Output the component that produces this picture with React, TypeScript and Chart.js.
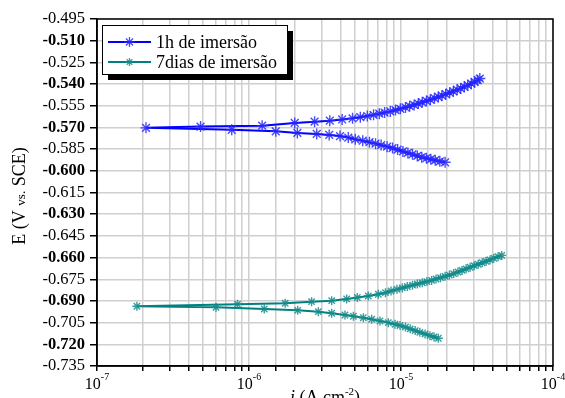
import { useEffect, useRef } from 'react';
import { Chart, registerables } from 'chart.js';

Chart.register(...registerables);

const FONT = '"Liberation Serif", "Times New Roman", serif';

const seriesNames = ['1h de imersão', '7dias de imersão'];
const seriesColors = ['#0000ff', '#008080'];
const markerColors = ['rgba(40,40,255,0.85)', 'rgba(20,140,140,0.85)'];

// 1h series: cathodic branch (from Ecorr outward) and anodic branch (from Ecorr outward)
const blueCathI = [7.7e-7, 1.5e-6, 2.08e-6, 2.79e-6, 3.37e-6, 3.97e-6, 4.5e-6, 5.0e-6, 5.6e-6, 6.2e-6, 6.8e-6, 7.4e-6, 8.1e-6, 8.8e-6, 9.5e-6, 1.03e-5, 1.11e-5, 1.19e-5, 1.28e-5, 1.37e-5, 1.47e-5, 1.57e-5, 1.68e-5, 1.8e-5, 1.95e-5];
const blueCathE = [-0.5716, -0.5727, -0.5738, -0.5745, -0.5752, -0.576, -0.577, -0.5782, -0.5792, -0.5802, -0.5812, -0.5822, -0.5833, -0.5843, -0.5853, -0.5866, -0.5876, -0.5886, -0.5897, -0.5906, -0.5913, -0.592, -0.5927, -0.5934, -0.5941];
const blueAnodI = [2.1e-7, 4.8e-7, 1.22e-6, 2.0e-6, 2.7e-6, 3.4e-6, 4.1e-6, 4.8e-6, 5.4e-6, 6.0e-6, 6.6e-6, 7.2e-6, 7.8e-6, 8.5e-6, 9.2e-6, 9.9e-6, 1.07e-5, 1.14e-5, 1.22e-5, 1.3e-5, 1.38e-5, 1.47e-5, 1.56e-5, 1.66e-5, 1.76e-5, 1.86e-5, 1.97e-5, 2.09e-5, 2.21e-5, 2.34e-5, 2.47e-5, 2.61e-5, 2.75e-5, 2.9e-5, 3.05e-5, 3.2e-5, 3.3e-5];
const blueAnodE = [-0.5703, -0.5694, -0.5688, -0.5669, -0.566, -0.5653, -0.5645, -0.5637, -0.5629, -0.5621, -0.5613, -0.5605, -0.5597, -0.5589, -0.558, -0.5571, -0.5562, -0.5553, -0.5544, -0.5535, -0.5526, -0.5517, -0.5508, -0.5498, -0.5489, -0.548, -0.547, -0.546, -0.545, -0.544, -0.543, -0.5419, -0.5408, -0.5397, -0.5385, -0.5373, -0.5362];

// 7 days series
const tealCathI = [6.07e-7, 1.26e-6, 2.09e-6, 2.86e-6, 3.5e-6, 4.28e-6, 4.86e-6, 5.65e-6, 6.41e-6, 7.27e-6, 8.25e-6, 9.13e-6, 9.85e-6, 1.07e-5, 1.15e-5, 1.24e-5, 1.33e-5, 1.44e-5, 1.55e-5, 1.65e-5, 1.76e-5];
const tealCathE = [-0.6944, -0.6956, -0.6965, -0.6974, -0.6985, -0.6997, -0.7006, -0.7016, -0.7027, -0.7039, -0.705, -0.7061, -0.707, -0.7081, -0.7093, -0.7105, -0.7117, -0.7129, -0.714, -0.7149, -0.7158];
const tealAnodI = [1.83e-7, 8.4e-7, 1.73e-6, 2.58e-6, 3.5e-6, 4.39e-6, 5.16e-6, 6.09e-6, 7.09e-6, 7.9e-6, 8.6e-6, 9.4e-6, 1.02e-5, 1.1e-5, 1.19e-5, 1.28e-5, 1.38e-5, 1.48e-5, 1.59e-5, 1.7e-5, 1.82e-5, 1.95e-5, 2.08e-5, 2.22e-5, 2.37e-5, 2.52e-5, 2.68e-5, 2.85e-5, 3.03e-5, 3.22e-5, 3.42e-5, 3.63e-5, 3.85e-5, 4.08e-5, 4.35e-5, 4.6e-5];
const tealAnodE = [-0.6937, -0.6923, -0.6916, -0.6905, -0.6898, -0.6886, -0.6876, -0.6866, -0.6854, -0.6843, -0.6831, -0.682, -0.681, -0.68, -0.6791, -0.6783, -0.6774, -0.6766, -0.6758, -0.6748, -0.6739, -0.673, -0.6721, -0.6711, -0.67, -0.6689, -0.6678, -0.6667, -0.6656, -0.6646, -0.6636, -0.6626, -0.6616, -0.6605, -0.6594, -0.6585];

const yMin = -0.735;
const yMax = -0.495;
const yStep = 0.015;
const xMin = 1e-7;
const xMax = 1e-4;
const xTickExponents = ['-7', '-6', '-5', '-4'];

function buildSeries(cI: number[], cE: number[], aI: number[], aE: number[]) {
  const pts: { x: number; y: number }[] = [];
  for (let k = cI.length - 1; k >= 0; k--) pts.push({ x: cI[k], y: cE[k] });
  for (let k = 0; k < aI.length; k++) pts.push({ x: aI[k], y: aE[k] });
  return pts;
}

const overlayPlugin = {
  id: 'overlay',
  afterDraw(chart: any) {
    const ctx = chart.ctx as CanvasRenderingContext2D;
    const area = chart.chartArea;
    const xs = chart.scales.x;
    ctx.save();
    // frame
    ctx.strokeStyle = '#000';
    ctx.lineWidth = 1.5;
    ctx.strokeRect(area.left, area.top, area.right - area.left, area.bottom - area.top);

    // x tick labels 10^n
    ctx.fillStyle = '#000';
    ctx.textBaseline = 'alphabetic';
    xTickExponents.forEach((e) => {
      const v = Math.pow(10, Number(e));
      const px = xs.getPixelForValue(v);
      ctx.font = `16px ${FONT}`;
      const w1 = ctx.measureText('10').width;
      ctx.font = `10px ${FONT}`;
      const w2 = ctx.measureText(e).width;
      const left = px - (w1 + w2) / 2;
      ctx.font = `16px ${FONT}`;
      ctx.textAlign = 'left';
      ctx.fillText('10', left, 389);
      ctx.font = `10px ${FONT}`;
      ctx.fillText(e, left + w1, 380);
    });

    // x title: i (A.cm^-2)
    {
      const parts = [
        { t: 'i', f: `italic 18px ${FONT}`, dy: 0 },
        { t: ' (A.cm', f: `18px ${FONT}`, dy: 0 },
        { t: '-2', f: `11px ${FONT}`, dy: -8 },
        { t: ')', f: `18px ${FONT}`, dy: 0 },
      ];
      let total = 0;
      parts.forEach((p) => { ctx.font = p.f; total += ctx.measureText(p.t).width; });
      let x = 325 - total / 2;
      parts.forEach((p) => {
        ctx.font = p.f;
        ctx.textAlign = 'left';
        ctx.fillText(p.t, x, 403 + p.dy);
        x += ctx.measureText(p.t).width;
      });
    }

    // y title: E (V vs. SCE)
    {
      const parts = [
        { t: 'E (V ', f: `18px ${FONT}` },
        { t: 'vs.', f: `13px ${FONT}` },
        { t: ' SCE)', f: `18px ${FONT}` },
      ];
      let total = 0;
      parts.forEach((p) => { ctx.font = p.f; total += ctx.measureText(p.t).width; });
      ctx.save();
      ctx.translate(25, 196);
      ctx.rotate(-Math.PI / 2);
      let x = -total / 2;
      parts.forEach((p) => {
        ctx.font = p.f;
        ctx.textAlign = 'left';
        ctx.fillText(p.t, x, 0);
        x += ctx.measureText(p.t).width;
      });
      ctx.restore();
    }

    // legend
    const lx = 102, ly = 25, lw = 185, lh = 49;
    ctx.fillStyle = '#000';
    ctx.fillRect(lx + 6, ly + 6, lw, lh);
    ctx.fillStyle = '#fff';
    ctx.fillRect(lx, ly, lw, lh);
    ctx.strokeStyle = '#000';
    ctx.lineWidth = 1;
    ctx.strokeRect(lx + 0.5, ly + 0.5, lw, lh);
    seriesNames.forEach((name, k) => {
      const y = 42 + k * 20;
      ctx.strokeStyle = seriesColors[k];
      ctx.lineWidth = 1.8;
      ctx.beginPath();
      ctx.moveTo(108, y);
      ctx.lineTo(151, y);
      ctx.stroke();
      // star marker
      const r = k === 0 ? 5 : 4;
      ctx.strokeStyle = markerColors[k];
      ctx.lineWidth = 1.3;
      ctx.beginPath();
      for (let a = 0; a < 4; a++) {
        const ang = (a * Math.PI) / 4;
        ctx.moveTo(129.5 - r * Math.cos(ang), y - r * Math.sin(ang));
        ctx.lineTo(129.5 + r * Math.cos(ang), y + r * Math.sin(ang));
      }
      ctx.stroke();
      ctx.fillStyle = '#000';
      ctx.font = `18px ${FONT}`;
      ctx.textAlign = 'left';
      ctx.textBaseline = 'middle';
      ctx.fillText(name, 156, y + 1);
    });
    ctx.restore();
  },
};

export default function App() {
  const ref = useRef<HTMLCanvasElement | null>(null);
  useEffect(() => {
    if (!ref.current) return;
    Chart.defaults.font.family = FONT;
    const chart = new Chart(ref.current, {
      type: 'line',
      data: {
        datasets: [
          {
            label: seriesNames[0],
            data: buildSeries(blueCathI, blueCathE, blueAnodI, blueAnodE),
            borderColor: seriesColors[0],
            borderWidth: 2,
            pointStyle: 'star',
            pointRadius: 5.5,
            pointBorderColor: markerColors[0],
            pointBackgroundColor: markerColors[0],
            pointBorderWidth: 1.4,
            fill: false,
            tension: 0,
          },
          {
            label: seriesNames[1],
            data: buildSeries(tealCathI, tealCathE, tealAnodI, tealAnodE),
            borderColor: seriesColors[1],
            borderWidth: 2,
            pointStyle: 'star',
            pointRadius: 4.5,
            pointBorderColor: markerColors[1],
            pointBackgroundColor: markerColors[1],
            pointBorderWidth: 1.4,
            fill: false,
            tension: 0,
          },
        ],
      },
      options: {
        animation: false,
        responsive: false,
        maintainAspectRatio: false,
        layout: { padding: { left: 0, top: 19, right: 12, bottom: 0 } },
        plugins: { legend: { display: false }, tooltip: { enabled: false } },
        scales: {
          x: {
            type: 'logarithmic',
            min: xMin,
            max: xMax,
            grid: { color: '#cfcfcf', lineWidth: 1.5, tickColor: '#000', tickLength: 5 },
            border: { color: '#000', width: 1.5 },
            ticks: { autoSkip: false, maxRotation: 0, callback: () => '' },
            afterFit: (s: any) => { s.height = 32; },
          },
          y: {
            type: 'linear',
            min: yMin,
            max: yMax,
            grid: { color: '#cfcfcf', lineWidth: 1.5, tickColor: '#000', tickLength: 7 },
            border: { color: '#000', width: 1.5 },
            ticks: {
              stepSize: yStep,
              autoSkip: false,
              color: '#000',
              padding: 5,
              callback: (v: any) => Number(v).toFixed(3),
              font: (c: any) => ({ family: FONT, size: 16.5, weight: c.index % 2 === 1 ? 'bold' : 'normal' }),
            },
            afterFit: (s: any) => { s.width = 97; },
          },
        },
      },
      plugins: [overlayPlugin],
    } as any);
    return () => chart.destroy();
  }, []);
  return (
    <div style={{ position: 'fixed', left: 0, top: 0, width: 565, height: 398, background: '#fff' }}>
      <canvas ref={ref} width={565} height={398} style={{ width: 565, height: 398, display: 'block' }} />
    </div>
  );
}
